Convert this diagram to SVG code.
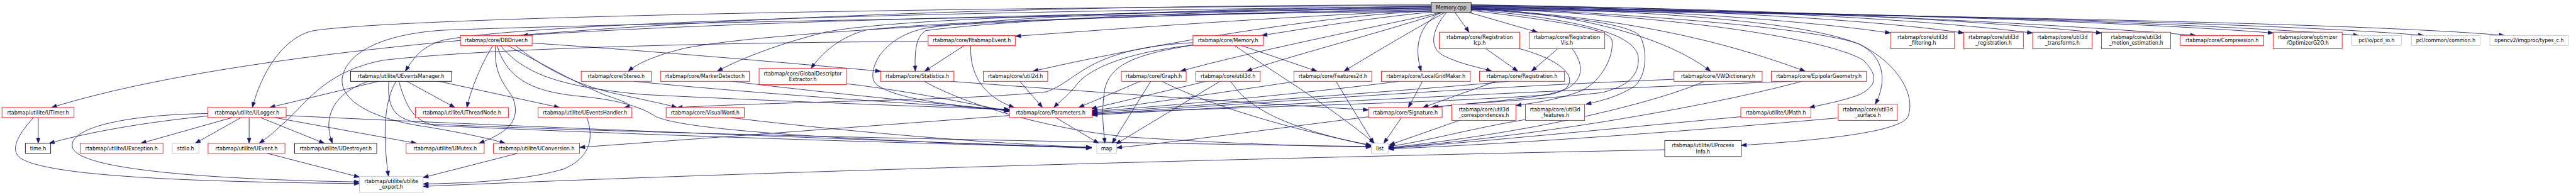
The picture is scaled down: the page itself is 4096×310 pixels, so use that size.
<svg xmlns="http://www.w3.org/2000/svg" width="4096" height="310" viewBox="0 0 4096 310">
<style>
.e{fill:none;stroke:#191970;stroke-width:1.33;marker-end:url(#a)}
rect{fill:#ffffff;stroke-width:1.33}
.r rect{stroke:#ff0000}
.k rect{stroke:#000000}
.g rect{stroke:#bfbfbf}
.root rect{fill:#bfbfbf;stroke:#000000}
text{font-family:"DejaVu Sans","Liberation Sans",sans-serif;font-size:12.5px;text-anchor:middle;fill:#000000}
</style>
<defs>
<marker id="a" markerUnits="userSpaceOnUse" markerWidth="14" markerHeight="10" orient="auto" overflow="visible" refX="0" refY="0"><path d="M-13,-4.7 L0,0 L-13,4.7 z" fill="#191970" stroke="#191970" stroke-width="1"/></marker>
</defs>
<rect x="0" y="0" width="4096" height="310" style="fill:#ffffff;stroke:none"/>
<g transform="scale(0.64)">
<g id="edges">
<!-- Memory.cpp edges, left -->
<path class="e" d="M3556,12 C2000,14 700,90 128,267"/>
<path class="e" d="M3556,14 C2000,20 900,50 770,78 C700,100 650,180 627,267"/>
<path class="e" d="M3556,28 C2500,40 1500,60 1100,75 C950,85 860,130 850,195 C845,260 950,300 1060,315 C1150,330 1220,345 1255,356"/>
<path class="e" d="M3556,16 C2200,30 1300,60 1100,100 C1050,115 1030,140 1007,177"/>
<path class="e" d="M3556,20 C2600,35 1800,55 1298,88"/>
<path class="e" d="M3556,22 C2600,40 1900,80 1700,120 C1620,140 1580,160 1561,177"/>
<path class="e" d="M3556,18 C2700,30 2200,50 2050,80 C1950,105 1850,140 1782,177"/>
<path class="e" d="M3556,24 C2800,40 2300,55 2150,75 C2080,95 2040,135 2015,170"/>
<path class="e" d="M3556,20 C3000,25 2500,50 2300,76 C2275,90 2272,130 2274,177"/>
<path class="e" d="M3556,16 C3000,22 2500,40 2300,70 C2200,90 2160,160 2170,200 C2190,240 2350,262 2508,275"/>
<path class="e" d="M3556,26 C3200,40 2800,70 2523,90"/>
<path class="e" d="M3556,28 C3350,32 2900,100 2566,177"/>
<path class="e" d="M3556,30 C3400,45 3250,70 3135,88"/>
<path class="e" d="M3580,31 C3400,70 3100,130 2933,177"/>
<path class="e" d="M3584,31 C3400,90 3200,140 3097,177"/>
<path class="e" d="M3590,31 C3500,80 3400,140 3339,177"/>
<path class="e" d="M3578,31 C3530,60 3510,110 3531,177"/>
<path class="e" d="M3594,31 C3560,70 3545,120 3590,140 C3630,160 3680,168 3706,177"/>
<path class="e" d="M3615,31 L3650,80"/>
<path class="e" d="M3650,31 L3820,80"/>
<!-- Memory.cpp edges, right -->
<path class="e" d="M3655,22 C3900,40 4050,60 4075,90 C4095,130 4090,190 4060,215 C4020,240 3980,250 3940,259"/>
<path class="e" d="M3655,26 C3850,50 4000,70 4005,100 C4010,140 3980,200 3930,225 C3880,245 3820,255 3766,262"/>
<path class="e" d="M3655,24 C3900,45 4060,80 4070,140 C4075,190 4040,215 3980,230 C3800,250 3650,255 3555,267"/>
<path class="e" d="M3655,20 C3950,35 4150,100 4250,177"/>
<path class="e" d="M3655,22 C4000,40 4250,90 4485,177"/>
<path class="e" d="M3655,20 C4200,40 4550,100 4630,150 C4670,190 4660,215 4620,235 C4580,250 4530,260 4495,267"/>
<path class="e" d="M3655,18 C4200,40 4550,80 4620,110 C4680,140 4690,200 4659,259"/>
<path class="e" d="M3655,16 C4200,30 4500,60 4620,110 C4720,160 4760,240 4740,290 C4720,330 4500,350 4326,361"/>
<path class="e" d="M3655,14 C4200,25 4550,60 4697,82"/>
<path class="e" d="M3655,12 C4300,25 4700,55 4879,82"/>
<path class="e" d="M3655,12 C4300,20 4800,50 5050,82"/>
<path class="e" d="M3655,14 C4400,20 4900,50 5221,82"/>
<path class="e" d="M3655,16 C4500,25 5100,60 5455,88"/>
<path class="e" d="M3655,18 C4600,30 5300,55 5648,82"/>
<path class="e" d="M3655,20 C4700,30 5500,60 5860,88"/>
<path class="e" d="M3655,22 C4800,35 5700,60 6021,88"/>
<path class="e" d="M3655,24 C5000,40 5900,60 6222,88"/>
<!-- sub edges -->
<path class="e" d="M95,292 L95,356"/>
<path class="e" d="M83,292 C40,340 20,380 60,398 C150,440 500,452 893,456"/>
<path class="e" d="M516,288 C400,300 250,320 122,356"/>
<path class="e" d="M577,292 L350,356"/>
<path class="e" d="M599,292 L485,356"/>
<path class="e" d="M619,292 L619,356"/>
<path class="e" d="M647,292 L806,356"/>
<path class="e" d="M682,292 L1035,356"/>
<path class="e" d="M516,282 C300,285 170,320 180,365 C190,420 500,445 893,452"/>
<path class="e" d="M711,287 C1300,315 2200,350 2712,367"/>
<path class="e" d="M941,202 L670,267"/>
<path class="e" d="M916,202 C830,230 800,290 826,356"/>
<path class="e" d="M984,202 C955,250 950,330 965,438"/>
<path class="e" d="M1011,202 L1130,267"/>
<path class="e" d="M1090,202 L1390,267"/>
<path class="e" d="M966,202 C960,280 990,300 1060,308 C1800,340 3000,358 3407,364"/>
<path class="e" d="M991,202 C1010,270 1030,300 1080,312 C1700,340 2400,360 2712,366"/>
<path class="e" d="M1225,113 C1200,150 1170,220 1160,267"/>
<path class="e" d="M1231,113 C1225,190 1260,215 1275,245 C1295,300 1260,330 1190,356"/>
<path class="e" d="M1261,113 C1350,160 1420,200 1500,235 C1560,255 1575,262 1551,267"/>
<path class="e" d="M1243,113 C1300,180 1380,215 1600,235 C1900,250 2300,265 2508,272"/>
<path class="e" d="M1322,107 C1600,125 2000,160 2188,177"/>
<path class="e" d="M1280,113 C1340,160 1420,210 1540,235 C1600,248 1650,258 1682,267"/>
<path class="e" d="M1235,113 C1260,200 1330,230 1450,240 C1550,250 1600,270 1630,290 C1700,320 2000,345 2712,368"/>
<path class="e" d="M2396,113 L2297,177"/>
<path class="e" d="M2412,113 C2408,180 2440,240 2520,267"/>
<path class="e" d="M2306,103 C1800,105 1200,120 950,150 C800,180 760,260 700,310 C680,330 660,345 644,356"/>
<path class="e" d="M2362,202 C2800,235 3200,262 3400,273"/>
<path class="e" d="M2296,202 C2400,260 2600,320 2800,340 C3100,360 3300,364 3407,365"/>
<path class="e" d="M2534,202 L2590,267"/>
<path class="e" d="M2964,112 C2800,130 2700,170 2670,217 C2650,240 2630,255 2618,267"/>
<path class="e" d="M2964,106 C2700,120 2680,200 2600,228 C2400,250 2000,250 1682,267"/>
<path class="e" d="M3084,113 L3272,177"/>
<path class="e" d="M3067,113 C3150,170 3300,260 3415,356"/>
<path class="e" d="M2964,112 C2820,135 2760,160 2745,220 C2735,280 2742,320 2745,356"/>
<path class="e" d="M2833,202 L2680,267"/>
<path class="e" d="M2859,202 L2763,356"/>
<path class="e" d="M2887,202 C3000,260 3200,320 3407,361"/>
<path class="e" d="M2997,202 L2711,270"/>
<path class="e" d="M3031,202 L2772,358"/>
<path class="e" d="M3058,202 C3100,270 3200,320 3407,362"/>
<path class="e" d="M3221,202 C3100,220 2900,250 2713,275"/>
<path class="e" d="M3319,202 L3413,356"/>
<path class="e" d="M3534,202 L3499,267"/>
<path class="e" d="M3476,202 C3300,225 3000,255 2713,277"/>
<path class="e" d="M3717,202 L3535,267"/>
<path class="e" d="M3750,202 C3500,225 3000,260 2713,280"/>
<path class="e" d="M3692,121 L3771,177"/>
<path class="e" d="M3776,121 C3880,150 3920,190 3890,220 C3850,245 3650,255 3560,267"/>
<path class="e" d="M3870,121 L3805,177"/>
<path class="e" d="M3906,121 C3950,180 3920,220 3850,235 C3600,255 3100,265 2713,282"/>
<path class="e" d="M4159,197 C3700,215 3200,250 2713,284"/>
<path class="e" d="M4235,202 C4100,260 3800,330 3449,367"/>
<path class="e" d="M4452,202 C4100,215 3400,245 2713,286"/>
<path class="e" d="M4477,202 C4300,250 3900,330 3449,368"/>
<path class="e" d="M4325,290 C4000,320 3700,350 3449,369"/>
<path class="e" d="M4567,293 C4200,325 3800,355 3449,370"/>
<path class="e" d="M3790,297 C3650,320 3550,350 3449,364"/>
<path class="e" d="M3626,299 L3452,360"/>
<path class="e" d="M3482,292 L3438,356"/>
<path class="e" d="M3401,290 C3200,315 2950,350 2774,367"/>
<path class="e" d="M2623,292 L2730,356"/>
<path class="e" d="M2508,287 C2200,310 1800,340 1440,366"/>
<path class="e" d="M1814,292 C2000,315 2400,355 2712,366"/>
<path class="e" d="M1575,202 C1800,225 2200,255 2508,272"/>
<path class="e" d="M1819,202 C2000,225 2300,255 2508,274"/>
<path class="e" d="M2103,208 C2250,225 2400,255 2508,277"/>
<path class="e" d="M1458,292 C1475,340 1470,390 1400,420 C1300,450 1150,455 1051,457"/>
<path class="e" d="M1286,381 L1051,441"/>
<path class="e" d="M664,381 L893,440"/>
<path class="e" d="M4136,372 C3000,395 1800,430 1051,463"/>
</g>
<g id="n-memcpp" class="root"><rect x="3556" y="6" width="99" height="25"/><text x="3605.5" y="23">Memory.cpp</text></g>
<g id="n-dbdriver" class="r"><rect x="1144" y="88" width="178" height="25"/><text x="1233" y="105">rtabmap/core/DBDriver.h</text></g>
<g id="n-rtabmapevent" class="r"><rect x="2306" y="88" width="217" height="25"/><text x="2414.5" y="105">rtabmap/core/RtabmapEvent.h</text></g>
<g id="n-memoryh" class="r"><rect x="2964" y="88" width="174" height="25"/><text x="3051" y="105">rtabmap/core/Memory.h</text></g>
<g id="n-regicp" class="r"><rect x="3576" y="80" width="200" height="41"/><text x="3676" y="97">rtabmap/core/Registration</text><text x="3676" y="111.5">Icp.h</text></g>
<g id="n-regvis" class="r"><rect x="3799" y="80" width="188" height="41"/><text x="3893" y="97">rtabmap/core/Registration</text><text x="3893" y="111.5">Vis.h</text></g>
<g id="n-filtering" class="r"><rect x="4697" y="80" width="159" height="41"/><text x="4776.5" y="97">rtabmap/core/util3d</text><text x="4776.5" y="111.5">_filtering.h</text></g>
<g id="n-reg3d" class="r"><rect x="4879" y="80" width="148" height="41"/><text x="4953" y="97">rtabmap/core/util3d</text><text x="4953" y="111.5">_registration.h</text></g>
<g id="n-transforms" class="r"><rect x="5050" y="80" width="148" height="41"/><text x="5124" y="97">rtabmap/core/util3d</text><text x="5124" y="111.5">_transforms.h</text></g>
<g id="n-motion" class="r"><rect x="5221" y="80" width="172" height="41"/><text x="5307" y="97">rtabmap/core/util3d</text><text x="5307" y="111.5">_motion_estimation.h</text></g>
<g id="n-compression" class="r"><rect x="5417" y="88" width="207" height="25"/><text x="5520.5" y="105">rtabmap/core/Compression.h</text></g>
<g id="n-g2o" class="r"><rect x="5648" y="80" width="171" height="41"/><text x="5733.5" y="97">rtabmap/core/optimizer</text><text x="5733.5" y="111.5">/OptimizerG2O.h</text></g>
<g id="n-pcdio" class="g"><rect x="5843" y="88" width="123" height="25"/><text x="5904.5" y="105">pcl/io/pcd_io.h</text></g>
<g id="n-common" class="g"><rect x="5991" y="88" width="171" height="25"/><text x="6076.5" y="105">pcl/common/common.h</text></g>
<g id="n-typesc" class="g"><rect x="6186" y="88" width="195" height="25"/><text x="6283.5" y="105">opencv2/imgproc/types_c.h</text></g>
<g id="n-uem" class="k"><rect x="871" y="177" width="251" height="25"/><text x="996.5" y="194">rtabmap/utilite/UEventsManager.h</text></g>
<g id="n-stereo" class="r"><rect x="1444" y="177" width="174" height="25"/><text x="1531" y="194">rtabmap/core/Stereo.h</text></g>
<g id="n-marker" class="r"><rect x="1641" y="177" width="221" height="25"/><text x="1751.5" y="194">rtabmap/core/MarkerDetector.h</text></g>
<g id="n-gde" class="r"><rect x="1886" y="170" width="217" height="40"/><text x="1994.5" y="187">rtabmap/core/GlobalDescriptor</text><text x="1994.5" y="201.5">Extractor.h</text></g>
<g id="n-statistics" class="r"><rect x="2188" y="177" width="182" height="25"/><text x="2279" y="194">rtabmap/core/Statistics.h</text></g>
<g id="n-util2d" class="r"><rect x="2443" y="177" width="160" height="25"/><text x="2523" y="194">rtabmap/core/util2d.h</text></g>
<g id="n-graph" class="r"><rect x="2786" y="177" width="161" height="25"/><text x="2866.5" y="194">rtabmap/core/Graph.h</text></g>
<g id="n-util3d" class="r"><rect x="2971" y="177" width="160" height="25"/><text x="3051" y="194">rtabmap/core/util3d.h</text></g>
<g id="n-features2d" class="r"><rect x="3215" y="177" width="193" height="25"/><text x="3311.5" y="194">rtabmap/core/Features2d.h</text></g>
<g id="n-lgm" class="r"><rect x="3432" y="177" width="221" height="25"/><text x="3542.5" y="194">rtabmap/core/LocalGridMaker.h</text></g>
<g id="n-registration" class="r"><rect x="3676" y="177" width="211" height="25"/><text x="3781.5" y="194">rtabmap/core/Registration.h</text></g>
<g id="n-vwdict" class="r"><rect x="4159" y="177" width="219" height="25"/><text x="4268.5" y="194">rtabmap/core/VWDictionary.h</text></g>
<g id="n-epipolar" class="r"><rect x="4401" y="177" width="236" height="25"/><text x="4519" y="194">rtabmap/core/EpipolarGeometry.h</text></g>
<g id="n-utimer" class="r"><rect x="5" y="267" width="179" height="25"/><text x="94.5" y="284">rtabmap/utilite/UTimer.h</text></g>
<g id="n-ulogger" class="r"><rect x="516" y="267" width="195" height="25"/><text x="613.5" y="284">rtabmap/utilite/ULogger.h</text></g>
<g id="n-uthreadnode" class="r"><rect x="1032" y="267" width="231" height="25"/><text x="1147.5" y="284">rtabmap/utilite/UThreadNode.h</text></g>
<g id="n-ueventshandler" class="r"><rect x="1337" y="267" width="233" height="25"/><text x="1453.5" y="284">rtabmap/utilite/UEventsHandler.h</text></g>
<g id="n-visualword" class="r"><rect x="1655" y="267" width="194" height="25"/><text x="1752" y="284">rtabmap/core/VisualWord.h</text></g>
<g id="n-parameters" class="r"><rect x="2508" y="267" width="205" height="25"/><text x="2610.5" y="284">rtabmap/core/Parameters.h</text></g>
<g id="n-signature" class="r"><rect x="3400" y="267" width="183" height="25"/><text x="3491.5" y="284">rtabmap/core/Signature.h</text></g>
<g id="n-corresp" class="r"><rect x="3607" y="259" width="159" height="40"/><text x="3686.5" y="276">rtabmap/core/util3d</text><text x="3686.5" y="290.5">_correspondences.h</text></g>
<g id="n-features3d" class="r"><rect x="3790" y="259" width="147" height="40"/><text x="3863.5" y="276">rtabmap/core/util3d</text><text x="3863.5" y="290.5">_features.h</text></g>
<g id="n-umath" class="r"><rect x="4325" y="267" width="174" height="25"/><text x="4412" y="284">rtabmap/utilite/UMath.h</text></g>
<g id="n-surface" class="r"><rect x="4567" y="259" width="147" height="40"/><text x="4640.5" y="276">rtabmap/core/util3d</text><text x="4640.5" y="290.5">_surface.h</text></g>
<g id="n-timeh" class="k"><rect x="63" y="356" width="63" height="25"/><text x="94.5" y="373">time.h</text></g>
<g id="n-uexception" class="r"><rect x="199" y="356" width="206" height="25"/><text x="302" y="373">rtabmap/utilite/UException.h</text></g>
<g id="n-stdio" class="g"><rect x="428" y="356" width="66" height="25"/><text x="461" y="373">stdio.h</text></g>
<g id="n-uevent" class="r"><rect x="517" y="356" width="191" height="25"/><text x="612.5" y="373">rtabmap/utilite/UEvent.h</text></g>
<g id="n-udestroyer" class="k"><rect x="732" y="356" width="204" height="25"/><text x="834" y="373">rtabmap/utilite/UDestroyer.h</text></g>
<g id="n-umutex" class="r"><rect x="1009" y="356" width="194" height="25"/><text x="1106" y="373">rtabmap/utilite/UMutex.h</text></g>
<g id="n-uconversion" class="r"><rect x="1226" y="356" width="214" height="25"/><text x="1333" y="373">rtabmap/utilite/UConversion.h</text></g>
<g id="n-map" class="g"><rect x="2725" y="356" width="49" height="25"/><text x="2749.5" y="373">map</text></g>
<g id="n-list" class="g"><rect x="3407" y="356" width="42" height="25"/><text x="3428" y="373">list</text></g>
<g id="n-uprocess" class="k"><rect x="4136" y="349" width="190" height="40"/><text x="4231" y="366">rtabmap/utilite/UProcess</text><text x="4231" y="380.5">Info.h</text></g>
<g id="n-uexport" class="g"><rect x="893" y="438" width="158" height="40"/><text x="972" y="455">rtabmap/utilite/utilite</text><text x="972" y="469.5">_export.h</text></g>
</g>
</svg>
